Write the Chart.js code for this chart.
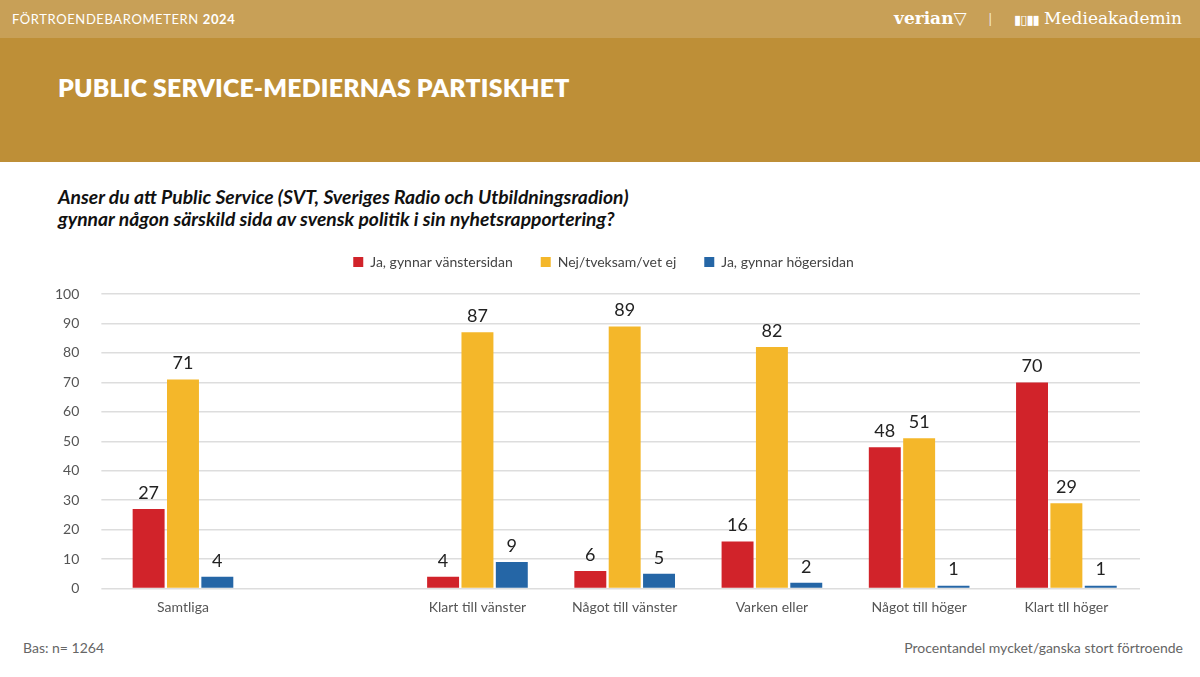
<!DOCTYPE html>
<html>
<head>
<meta charset="utf-8">
<script src="https://cdn.jsdelivr.net/npm/chart.js@4.4.0/dist/chart.umd.min.js"></script>
<style>
  body { margin: 0; width: 1200px; height: 677px; overflow: hidden; background: #fff; font-family: Lato, "Noto Sans", sans-serif; position: relative; }
  .top { position: absolute; left: 0; top: 0; width: 1200px; height: 38px; background: #C8A057; }
  .top .brand { position: absolute; left: 12px; top: 11px; color: #fff; font-size: 13px; letter-spacing: 0.6px; }
  .top .logos { position: absolute; right: 18px; top: 8px; color: #fff; font-family: "DejaVu Serif", "Liberation Serif", serif; font-size: 17px; }
  .top .sep { margin: 0 22px; font-family: Lato, sans-serif; font-size: 14px; opacity: .8; }
  .band { position: absolute; left: 0; top: 38px; width: 1200px; height: 124px; background: #BE8F37; }
  .band h1 { position: absolute; left: 58px; top: 35px; margin: 0; color: #fff; font-size: 24.8px; font-weight: 800; letter-spacing: 0.2px; }
  .question { position: absolute; left: 58px; top: 186px; margin: 0; font-size: 19.3px; font-weight: bold; font-style: italic; line-height: 22px; color: #111; }
  #wrap { position: absolute; left: 33px; top: 227px; width: 1143px; height: 392px; }
  .foot { position: absolute; top: 639px; font-size: 14px; color: #666; }
</style>
</head>
<body>
<div class="top">
  <div class="brand">FÖRTROENDEBAROMETERN <b>2024</b></div>
  <div class="logos"><b>verian</b>▽<span class="sep">|</span><span style="font-size:13px;letter-spacing:-1px">▮▯▮▮</span> Medieakademin</div>
</div>
<div class="band"><h1>PUBLIC SERVICE-MEDIERNAS PARTISKHET</h1></div>
<p class="question">Anser du att Public Service (SVT, Sveriges Radio och Utbildningsradion)<br>gynnar någon särskild sida av svensk politik i sin nyhetsrapportering?</p>
<div id="wrap"><canvas id="canvas"></canvas></div>
<div class="foot" style="left:23px">Bas: n= 1264</div>
<div class="foot" style="right:17px">Procentandel mycket/ganska stort förtroende</div>

<script>
const categories = ["Samtliga", "", "Klart till vänster", "Något till vänster", "Varken eller", "Något till höger", "Klart tll höger"];
const seriesNames = ["Ja, gynnar vänstersidan", "Nej/tveksam/vet ej", "Ja, gynnar högersidan"];
const vanster = [27, null, 4, 6, 16, 48, 70];
const nej = [71, null, 87, 89, 82, 51, 29];
const hoger = [4, null, 9, 5, 2, 1, 1];
const yTicks = [0, 10, 20, 30, 40, 50, 60, 70, 80, 90, 100];

const colors = ["#D1232A", "#F4B72A", "#2566A6"];

// values written above each bar
const barLabels = {
  id: 'barLabels',
  afterDatasetsDraw(chart) {
    const ctx = chart.ctx;
    ctx.save();
    ctx.font = '18px Lato, "Noto Sans", sans-serif';
    ctx.fillStyle = '#222';
    ctx.textAlign = 'center';
    ctx.textBaseline = 'bottom';
    chart.data.datasets.forEach((ds, i) => {
      chart.getDatasetMeta(i).data.forEach((bar, j) => {
        if (ds.data[j] == null) return;
        ctx.fillText(ds.data[j], bar.x, bar.y - 7);
      });
    });
    ctx.restore();
  }
};

// extra room under the legend, and nudge it right a bit
const legendGap = {
  id: 'legendGap',
  beforeInit(chart) {
    const fit = chart.legend.fit;
    chart.legend.fit = function () {
      fit.bind(chart.legend)();
      this.height += 15;
    };
  },
  afterLayout(chart) {
    chart.legend.left += 17;
    chart.legend.right += 17;
  }
};

window.onload = function () {
  const ctx = document.getElementById('canvas').getContext('2d');
  new Chart(ctx, {
    type: 'bar',
    data: {
      labels: categories,
      datasets: [
        { label: seriesNames[0], data: vanster, backgroundColor: colors[0] },
        { label: seriesNames[1], data: nej, backgroundColor: colors[1] },
        { label: seriesNames[2], data: hoger, backgroundColor: colors[2] }
      ]
    },
    options: {
      responsive: true,
      maintainAspectRatio: false,
      animation: false,
      layout: { padding: { top: 0, right: 36, bottom: 0, left: 0 } },
      datasets: { bar: { categoryPercentage: 0.7, barPercentage: 0.93 } },
      plugins: {
        legend: {
          position: 'top',
          labels: {
            boxWidth: 10, boxHeight: 10, padding: 28, color: '#444',
            font: { size: 14, family: 'Lato, "Noto Sans", sans-serif' }
          }
        },
        tooltip: { enabled: false }
      },
      scales: {
        x: {
          grid: { display: false },
          border: { display: false },
          ticks: { color: '#555', font: { size: 14, family: 'Lato, "Noto Sans", sans-serif' }, padding: 2 }
        },
        y: {
          min: 0, max: 100,
          afterBuildTicks(axis) { axis.ticks = yTicks.map(v => ({ value: v })); },
          grid: { color: '#DDDDDD', lineWidth: 1.5 },
          border: { display: false },
          ticks: { color: '#555', padding: 22, font: { size: 14, family: 'Lato, "Noto Sans", sans-serif' } }
        }
      }
    },
    plugins: [barLabels, legendGap]
  });
};
</script>
</body>
</html>
